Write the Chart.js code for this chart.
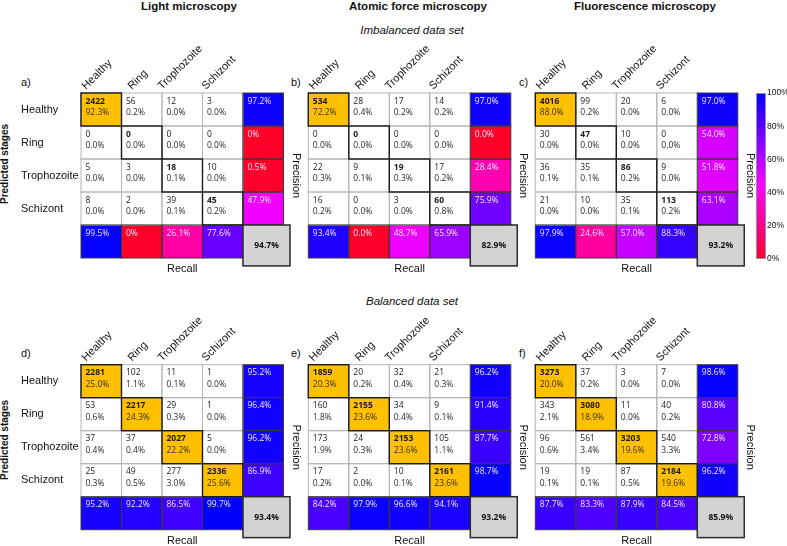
<!DOCTYPE html>
<html><head><meta charset="utf-8">
<script src="https://cdn.jsdelivr.net/npm/chart.js@4/dist/chart.umd.min.js"></script>
<style>
html,body{margin:0;padding:0;background:#fff;}
#wrap{position:relative;width:787px;height:546px;overflow:hidden;font-family:"Liberation Sans",Arial,sans-serif;color:#111;}
canvas{position:absolute;}
.t{position:absolute;white-space:nowrap;transform:translate(-50%,-50%);line-height:1;}
.l{position:absolute;white-space:nowrap;transform:translate(0,-50%);font-size:11px;line-height:1;}
.title{font-weight:bold;font-size:11.5px;}
.sub{font-style:italic;font-size:11.5px;}
.vert{position:absolute;white-space:nowrap;transform:translate(-50%,-50%) rotate(-90deg);font-weight:bold;font-size:10px;line-height:1;}
</style></head><body>
<div id="wrap">
  <div class="t title" style="left:189px;top:7px">Light microscopy</div>
  <div class="t title" style="left:418px;top:7px">Atomic force microscopy</div>
  <div class="t title" style="left:645px;top:7px">Fluorescence microscopy</div>
  <div class="t sub" style="left:412px;top:31px">Imbalanced data set</div>
  <div class="t sub" style="left:412px;top:302px">Balanced data set</div>
  <div class="l" style="left:21px;top:82px">a)</div>
  <div class="l" style="left:291px;top:82px">b)</div>
  <div class="l" style="left:519px;top:82px">c)</div>
  <div class="l" style="left:21px;top:353px">d)</div>
  <div class="l" style="left:291px;top:353px">e)</div>
  <div class="l" style="left:519px;top:353px">f)</div>
  <div class="vert" style="left:5px;top:164px">Predicted stages</div>
  <div class="vert" style="left:5px;top:440px">Predicted stages</div>
</div>
<script>
// ---------------- data ----------------
const stages = ['Healthy', 'Ring', 'Trophozoite', 'Schizont'];
const colorbarTicks = [0, 20, 40, 60, 80, 100];

// a) Light microscopy, imbalanced
const countsA = [[2422, 56, 12, 3], [0, 0, 0, 0], [5, 3, 18, 10], [8, 2, 39, 45]];
const pctA = [[92.3, 0.2, 0.0, 0.0], [0.0, 0.0, 0.0, 0.0], [0.0, 0.0, 0.1, 0.0], [0.0, 0.0, 0.1, 0.2]];
const precisionA = [97.2, 0, 0.5, 47.9];
const recallA = [99.5, 0, 26.1, 77.6];
const accuracyA = 94.7;

// b) Atomic force microscopy, imbalanced
const countsB = [[534, 28, 17, 14], [0, 0, 0, 0], [22, 9, 19, 17], [16, 0, 3, 60]];
const pctB = [[72.2, 0.4, 0.2, 0.2], [0.0, 0.0, 0.0, 0.0], [0.3, 0.1, 0.3, 0.2], [0.2, 0.0, 0.0, 0.8]];
const precisionB = [97.0, 0.0, 28.4, 75.9];
const recallB = [93.4, 0.0, 48.7, 65.9];
const accuracyB = 82.9;

// c) Fluorescence microscopy, imbalanced
const countsC = [[4016, 99, 20, 6], [30, 47, 10, 0], [36, 35, 86, 9], [21, 10, 35, 113]];
const pctC = [[88.0, 0.2, 0.0, 0.0], [0.0, 0.0, 0.0, 0.0], [0.1, 0.1, 0.2, 0.0], [0.0, 0.0, 0.1, 0.2]];
const precisionC = [97.0, 54.0, 51.8, 63.1];
const recallC = [97.9, 24.6, 57.0, 88.3];
const accuracyC = 93.2;

// d) Light microscopy, balanced
const countsD = [[2281, 102, 11, 1], [53, 2217, 29, 1], [37, 37, 2027, 5], [25, 49, 277, 2336]];
const pctD = [[25.0, 1.1, 0.1, 0.0], [0.6, 24.3, 0.3, 0.0], [0.4, 0.4, 22.2, 0.0], [0.3, 0.5, 3.0, 25.6]];
const precisionD = [95.2, 96.4, 96.2, 86.9];
const recallD = [95.2, 92.2, 86.5, 99.7];
const accuracyD = 93.4;

// e) Atomic force microscopy, balanced
const countsE = [[1859, 20, 32, 21], [160, 2155, 34, 9], [173, 24, 2153, 105], [17, 2, 10, 2161]];
const pctE = [[20.3, 0.2, 0.4, 0.3], [1.8, 23.6, 0.4, 0.1], [1.9, 0.3, 23.6, 1.1], [0.2, 0.0, 0.1, 23.6]];
const precisionE = [96.2, 91.4, 87.7, 98.7];
const recallE = [84.2, 97.9, 96.6, 94.1];
const accuracyE = 93.2;

// f) Fluorescence microscopy, balanced
const countsF = [[3273, 37, 3, 7], [343, 3080, 11, 40], [96, 561, 3203, 540], [19, 19, 87, 2184]];
const pctF = [[20.0, 0.2, 0.0, 0.0], [2.1, 18.9, 0.0, 0.2], [0.6, 3.4, 19.6, 3.3], [0.1, 0.1, 0.5, 19.6]];
const precisionF = [98.6, 80.8, 72.8, 96.2];
const recallF = [87.7, 83.3, 87.9, 84.5];
const accuracyF = 85.9;

// ---------------- rendering ----------------
Chart.defaults.font.family = '"Liberation Sans", Arial, sans-serif';
Chart.defaults.color = '#111';
const wrap = document.getElementById('wrap');
const CELL_FONT = '"Open Sans", "Liberation Sans", sans-serif';
const HEAD_SHIFT = [5, 10.5, 0, 3.5]; // horizontal nudge of each rotated column header (px)

function cmap(v) {
  const t = v / 100;
  let r, b;
  if (t < 0.45) { r = 255; b = 40 + 215 * t / 0.45; }
  else { b = 255; r = 255 * (1 - (t - 0.45) / 0.55); }
  return 'rgb(' + Math.round(r) + ',0,' + Math.round(b) + ')';
}

const panels = [
  {counts: countsA, pct: pctA, prec: precisionA, rec: recallA, acc: accuracyA, shortZero: true, rowLabels: true, gx: 81, gy: 93, cl: 0, ct: 20},
  {counts: countsB, pct: pctB, prec: precisionB, rec: recallB, acc: accuracyB, shortZero: false, rowLabels: false, gx: 308.3, gy: 93, cl: 227, ct: 20},
  {counts: countsC, pct: pctC, prec: precisionC, rec: recallC, acc: accuracyC, shortZero: false, rowLabels: false, gx: 535.3, gy: 93, cl: 454, ct: 20},
  {counts: countsD, pct: pctD, prec: precisionD, rec: recallD, acc: accuracyD, shortZero: false, rowLabels: true, gx: 81, gy: 364.7, cl: 0, ct: 292},
  {counts: countsE, pct: pctE, prec: precisionE, rec: recallE, acc: accuracyE, shortZero: false, rowLabels: false, gx: 308.3, gy: 364.7, cl: 227, ct: 292},
  {counts: countsF, pct: pctF, prec: precisionF, rec: recallF, acc: accuracyF, shortZero: false, rowLabels: false, gx: 535.3, gy: 364.7, cl: 454, ct: 292}
];

function isGold(p, r, c) { return r === c && p.pct[r][c] >= 5; }

function cellColor(p, r, c) {
  if (r < 4 && c < 4) return isGold(p, r, c) ? '#FFC000' : '#ffffff';
  if (r < 4 && c === 4) return cmap(p.prec[r]);
  if (r === 4 && c < 4) return cmap(p.rec[c]);
  return 'rgba(0,0,0,0)';
}

function fmtRate(p, v) {
  if (p.shortZero && v === 0) return '0%';
  return v.toFixed(1) + '%';
}

function cellRect(chart, r, c) {
  const el = chart.getDatasetMeta(r).data[c];
  const top = Math.min(el.y, el.base);
  return {x: el.x - el.width / 2, y: top, w: el.width, h: Math.abs(el.base - el.y)};
}

function makePlugin(p) {
  return {
    id: 'cmOverlay',
    afterDatasetsDraw(chart) {
      const ctx = chart.ctx;
      ctx.save();
      // light grid for inner cells
      ctx.strokeStyle = '#b5b5b5';
      ctx.lineWidth = 1;
      for (let r = 0; r < 4; r++) for (let c = 0; c < 4; c++) {
        const q = cellRect(chart, r, c);
        ctx.strokeRect(q.x, q.y, q.w, q.h);
      }
      // outlines for rate cells
      ctx.strokeStyle = '#3a3a3a';
      ctx.lineWidth = 1;
      for (let i = 0; i < 4; i++) {
        let q = cellRect(chart, i, 4); ctx.strokeRect(q.x, q.y, q.w, q.h);
        q = cellRect(chart, 4, i); ctx.strokeRect(q.x, q.y, q.w, q.h);
      }
      // diagonal emphasis
      ctx.strokeStyle = '#1a1a1a';
      ctx.lineWidth = 1.4;
      for (let i = 0; i < 4; i++) {
        const q = cellRect(chart, i, i);
        ctx.strokeRect(q.x, q.y, q.w, q.h);
      }
      // rotated column headers (true stages)
      ctx.fillStyle = '#111';
      ctx.font = '11px "Liberation Sans", Arial, sans-serif';
      ctx.textAlign = 'left';
      ctx.textBaseline = 'alphabetic';
      for (let c = 0; c < 4; c++) {
        const q = cellRect(chart, 0, c);
        ctx.save();
        ctx.translate(q.x + HEAD_SHIFT[c], q.y - 3);
        ctx.rotate(-Math.PI / 4);
        ctx.fillText(stages[c], 0, 0);
        ctx.restore();
      }
      // texts in inner cells
      for (let r = 0; r < 4; r++) for (let c = 0; c < 4; c++) {
        const q = cellRect(chart, r, c);
        ctx.fillStyle = '#1a1a1a';
        ctx.font = (r === c ? 'bold ' : '') + '8.5px ' + CELL_FONT;
        ctx.fillText(String(p.counts[r][c]), q.x + 4.5, q.y + 10.5);
        ctx.fillStyle = isGold(p, r, c) ? '#3a3020' : '#2a2a2a';
        ctx.font = '8.5px ' + CELL_FONT;
        ctx.fillText(p.pct[r][c].toFixed(1) + '%', q.x + 4.5, q.y + 22);
      }
      // rate texts
      ctx.fillStyle = '#efe8ff';
      ctx.font = '8.5px ' + CELL_FONT;
      for (let i = 0; i < 4; i++) {
        let q = cellRect(chart, i, 4);
        ctx.fillText(fmtRate(p, p.prec[i]), q.x + 4.5, q.y + 10.5);
        q = cellRect(chart, 4, i);
        ctx.fillText(fmtRate(p, p.rec[i]), q.x + 4.5, q.y + 10.5);
      }
      // overall accuracy box
      const g = cellRect(chart, 4, 4);
      const gw = g.w * 1.16, gh = g.h * 1.24;
      ctx.fillStyle = '#d3d3d3';
      ctx.fillRect(g.x, g.y, gw, gh);
      ctx.strokeStyle = '#2a2a2a';
      ctx.lineWidth = 1.5;
      ctx.strokeRect(g.x, g.y, gw, gh);
      ctx.fillStyle = '#111';
      ctx.font = 'bold 8.5px ' + CELL_FONT;
      ctx.textAlign = 'center';
      ctx.textBaseline = 'middle';
      ctx.fillText(p.acc.toFixed(1) + '%', g.x + gw / 2, g.y + gh / 2);
      ctx.restore();
    }
  };
}

function makePanel(p) {
  const W = 303, H = 256;
  const cv = document.createElement('canvas');
  cv.width = W; cv.height = H;
  cv.style.left = p.cl + 'px'; cv.style.top = p.ct + 'px';
  cv.style.width = W + 'px'; cv.style.height = H + 'px';
  wrap.appendChild(cv);
  const padL = 21;
  const Lw = p.gx - p.cl - padL;
  const Th = p.gy - p.ct;
  const Rw = W - (p.gx - p.cl) - 202.5;
  const Bh = H - Th - 165;
  const cols = stages.concat(['']);
  const datasets = [0, 1, 2, 3, 4].map(r => ({
    label: r < 4 ? stages[r] : 'Recall',
    data: [1, 1, 1, 1, 1],
    xAxisID: 'x', yAxisID: 'y',
    backgroundColor: (ctx) => cellColor(p, r, ctx.dataIndex),
    borderWidth: 0,
    barPercentage: 1, categoryPercentage: 1
  }));
  const labelFont = {size: 11};
  new Chart(cv, {
    type: 'bar',
    data: {labels: cols, datasets},
    options: {
      responsive: false, animation: false, devicePixelRatio: 1,
      events: [],
      layout: {padding: {left: padL, top: 0, right: 0, bottom: 0}, autoPadding: false},
      plugins: {legend: {display: false}, tooltip: {enabled: false}, title: {display: false}},
      scales: {
        x: {type: 'category', position: 'top', offset: true, stacked: true,
            grid: {display: false, drawTicks: false}, border: {display: false},
            ticks: {display: false},
            afterFit(s) { s.height = Th; }},
        x2: {type: 'category', labels: cols, position: 'bottom', offset: true,
            grid: {display: false, drawTicks: false}, border: {display: false},
            ticks: {display: false},
            title: {display: true, text: 'Recall', padding: 0, color: '#111', font: labelFont},
            afterFit(s) { s.height = Bh; }},
        y: {type: 'linear', display: false, min: 0, max: 5, reverse: true, stacked: true},
        yl: {type: 'category', labels: cols, position: 'left', offset: true,
            grid: {display: false, drawTicks: false}, border: {display: false},
            ticks: {display: p.rowLabels, crossAlign: 'far', padding: 0, autoSkip: false, color: '#111', font: labelFont},
            afterFit(s) { s.width = Lw; }},
        yr: {type: 'linear', position: 'right',
            grid: {display: false, drawTicks: false}, border: {display: false},
            ticks: {display: false},
            title: {display: true, text: 'Precision', padding: 0, color: '#111', font: labelFont},
            afterFit(s) { s.width = Rw; }}
      }
    },
    plugins: [makePlugin(p)]
  });
}

panels.forEach(makePanel);

// colour bar
(function () {
  const cv = document.createElement('canvas');
  cv.width = 31; cv.height = 182;
  cv.style.left = '756px'; cv.style.top = '85px';
  cv.style.width = '31px'; cv.style.height = '182px';
  wrap.appendChild(cv);
  new Chart(cv, {
    type: 'bar',
    data: {labels: [''], datasets: [{
      data: [[colorbarTicks[0], colorbarTicks[colorbarTicks.length - 1]]],
      barPercentage: 1, categoryPercentage: 1, borderWidth: 0,
      backgroundColor: (ctx) => {
        const a = ctx.chart.chartArea;
        if (!a) return '#f0f';
        const gr = ctx.chart.ctx.createLinearGradient(0, a.bottom, 0, a.top);
        colorbarTicks.forEach(v => gr.addColorStop(v / 100, cmap(v)));
        gr.addColorStop(0.45, cmap(45));
        return gr;
      }
    }]},
    options: {
      responsive: false, animation: false, devicePixelRatio: 1, events: [],
      layout: {padding: {top: 8, bottom: 8, left: 0, right: 0}, autoPadding: false},
      plugins: {legend: {display: false}, tooltip: {enabled: false}},
      scales: {
        x: {display: false, offset: true},
        y: {position: 'right', min: 0, max: 100,
            grid: {display: false, drawTicks: false}, border: {display: false},
            afterBuildTicks(s) { s.ticks = colorbarTicks.map(v => ({value: v})); },
            ticks: {padding: 1, color: '#111', font: {size: 8.5}, callback: v => v + '%'},
            afterFit(s) { s.width = 21; }}
      }
    },
    plugins: [{
      id: 'cbBorder',
      afterDatasetsDraw(chart) {
        const a = chart.chartArea, c = chart.ctx;
        c.save(); c.strokeStyle = '#8c8cc0'; c.lineWidth = 1;
        c.strokeRect(a.left + 0.5, a.top + 0.5, a.width - 1, a.height - 1);
        c.restore();
      }
    }]
  });
})();
</script>
</body></html>
